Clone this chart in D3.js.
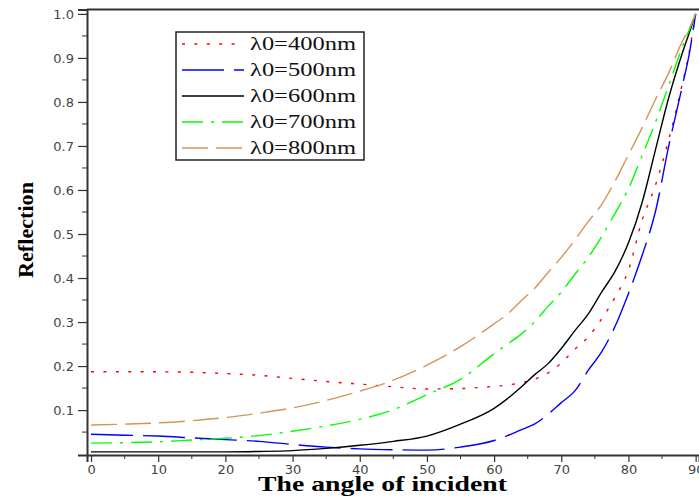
<!DOCTYPE html>
<html>
<head>
<meta charset="utf-8">
<script src="https://cdn.jsdelivr.net/npm/d3@7"></script>
<style>
  body { margin: 0; background: #fff; }
  svg { display: block; }
</style>
</head>
<body>
<div id="chart"></div>
<script>
// angle of incidence (degrees)
const angles = [0, 5, 10, 15, 20, 25, 30, 35, 40, 45, 50, 55, 60, 62, 64, 66, 68, 70, 72, 74, 76, 78, 80, 82, 84, 86, 88, 89, 90];

// reflection for each wavelength
const r400 = [0.187, 0.187, 0.187, 0.186, 0.183, 0.179, 0.172, 0.165, 0.159, 0.153, 0.148, 0.149, 0.154, 0.157, 0.162, 0.170, 0.184, 0.207, 0.238, 0.266, 0.307, 0.356, 0.418, 0.530, 0.610, 0.715, 0.840, 0.910, 1.0];
const r500 = [0.045, 0.043, 0.041, 0.037, 0.033, 0.029, 0.022, 0.016, 0.012, 0.010, 0.009, 0.016, 0.031, 0.042, 0.055, 0.068, 0.090, 0.117, 0.143, 0.190, 0.232, 0.290, 0.365, 0.450, 0.550, 0.700, 0.835, 0.905, 1.0];
const r600 = [0.005, 0.005, 0.005, 0.005, 0.005, 0.006, 0.008, 0.013, 0.020, 0.029, 0.041, 0.068, 0.104, 0.126, 0.152, 0.180, 0.205, 0.240, 0.280, 0.318, 0.368, 0.415, 0.480, 0.570, 0.690, 0.810, 0.910, 0.955, 1.0];
const r700 = [0.025, 0.026, 0.028, 0.032, 0.036, 0.042, 0.052, 0.064, 0.079, 0.101, 0.135, 0.170, 0.228, 0.250, 0.272, 0.300, 0.335, 0.368, 0.408, 0.447, 0.494, 0.547, 0.603, 0.677, 0.753, 0.838, 0.924, 0.962, 1.0];
const r800 = [0.066, 0.068, 0.071, 0.076, 0.083, 0.093, 0.105, 0.122, 0.143, 0.168, 0.202, 0.244, 0.296, 0.318, 0.348, 0.376, 0.412, 0.447, 0.486, 0.528, 0.567, 0.620, 0.680, 0.740, 0.805, 0.866, 0.937, 0.965, 1.0];

const seriesNames = ["\u03bb0=400nm", "\u03bb0=500nm", "\u03bb0=600nm", "\u03bb0=700nm", "\u03bb0=800nm"];
const seriesValues = [r400, r500, r600, r700, r800];

const xTicks = [0, 10, 20, 30, 40, 50, 60, 70, 80, 90];
const yTicks = [0.1, 0.2, 0.3, 0.4, 0.5, 0.6, 0.7, 0.8, 0.9, 1.0];

const xTitle = "The angle of incident";
const yTitle = "Reflection";

let width = 699,
    height = 499;

const styles = [
    { color: "#ff0000", dash: "3,9.4" },
    { color: "#0000ff", dash: "42,10" },
    { color: "#000000", dash: null },
    { color: "#00ff00", dash: "21,8,3,8" },
    { color: "#d2955a", dash: "26,8" }
];

const svg = d3.select("#chart").append("svg")
    .attr("width", width)
    .attr("height", height);

let x = d3.scaleLinear()
    .domain([-0.6, 90.5])
    .range([87, 699]);

let y = d3.scaleLinear()
    .domain([-0.002, 1.01])
    .range([455, 9.5]);

const axisColor = "#333";

// x axis
const gx = svg.append("g")
    .attr("transform", "translate(0," + y(-0.002) + ")")
    .call(d3.axisBottom(x)
        .tickValues(xTicks)
        .tickFormat(d3.format("d"))
        .tickSize(7)
        .tickPadding(3));

gx.append("g")
    .selectAll("line")
    .data(d3.range(5, 90, 10))
    .enter().append("line")
    .attr("x1", d => x(d))
    .attr("x2", d => x(d))
    .attr("y1", 0)
    .attr("y2", 4)
    .attr("stroke", axisColor);

// y axis
const gy = svg.append("g")
    .attr("transform", "translate(" + x(-0.6) + ",0)")
    .call(d3.axisLeft(y)
        .tickValues(yTicks)
        .tickFormat(d3.format(".1f"))
        .tickSize(9)
        .tickPadding(4));

gy.append("g")
    .selectAll("line")
    .data(d3.range(0.05, 1.0, 0.1))
    .enter().append("line")
    .attr("x1", 0)
    .attr("x2", -5)
    .attr("y1", d => y(d))
    .attr("y2", d => y(d))
    .attr("stroke", axisColor);

[gx, gy].forEach(g => {
    g.select(".domain").attr("stroke", axisColor).attr("stroke-width", 2);
    g.selectAll(".tick line").attr("stroke", axisColor).attr("stroke-width", 1.2);
    g.selectAll(".tick text")
        .attr("fill", "#444")
        .style("font-family", "'DejaVu Sans', Verdana, sans-serif")
        .style("font-size", "13px");
});

// top frame line
svg.append("line")
    .attr("x1", x(-0.6))
    .attr("x2", width)
    .attr("y1", y(1.01))
    .attr("y2", y(1.01))
    .attr("stroke", axisColor)
    .attr("stroke-width", 2);

// curves
const line = d3.line()
    .x(d => x(d[0]))
    .y(d => y(d[1]))
    .curve(d3.curveMonotoneX);

svg.append("g")
    .selectAll("path")
    .data(seriesValues)
    .enter().append("path")
    .attr("d", vals => line(angles.map((a, i) => [a, vals[i]])))
    .attr("fill", "none")
    .attr("stroke", (d, i) => styles[i].color)
    .attr("stroke-width", 1.4)
    .attr("stroke-dasharray", (d, i) => styles[i].dash);

// legend
const legend = svg.append("g")
    .attr("transform", "translate(176,32)");

legend.append("rect")
    .attr("width", 188)
    .attr("height", 128)
    .attr("fill", "#fff")
    .attr("stroke", "#222")
    .attr("stroke-width", 1.5);

const item = legend.selectAll("g.item")
    .data(seriesNames)
    .enter().append("g")
    .attr("class", "item")
    .attr("transform", (d, i) => "translate(0," + (12 + i * 26) + ")");

item.append("line")
    .attr("x1", 6)
    .attr("x2", 68)
    .attr("stroke", (d, i) => styles[i].color)
    .attr("stroke-width", 1.4)
    .attr("stroke-dasharray", (d, i) => styles[i].dash);

item.append("text")
    .attr("x", 74)
    .attr("y", 6)
    .attr("textLength", 106)
    .attr("lengthAdjust", "spacingAndGlyphs")
    .style("font-family", "'Liberation Serif', 'Times New Roman', serif")
    .style("font-size", "19px")
    .style("fill", "#111")
    .text(d => d);

// axis titles
svg.append("text")
    .attr("x", 258)
    .attr("y", 491)
    .attr("textLength", 249)
    .attr("lengthAdjust", "spacingAndGlyphs")
    .style("font-family", "'Liberation Serif', 'Times New Roman', serif")
    .style("font-weight", "bold")
    .style("font-size", "21px")
    .text(xTitle);

svg.append("text")
    .attr("transform", "translate(33,278) rotate(-90)")
    .attr("textLength", 96)
    .attr("lengthAdjust", "spacingAndGlyphs")
    .style("font-family", "'Liberation Serif', 'Times New Roman', serif")
    .style("font-weight", "bold")
    .style("font-size", "21px")
    .text(yTitle);
</script>
</body>
</html>
